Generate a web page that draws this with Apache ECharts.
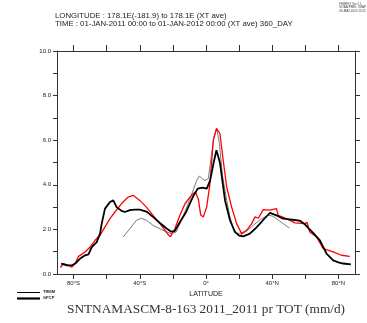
<!DOCTYPE html>
<html>
<head>
<meta charset="utf-8">
<script src="https://cdn.jsdelivr.net/npm/echarts@6/dist/echarts.min.js"></script>
<style>
  html, body { margin: 0; padding: 0; background: #fff; }
  #chart { width: 367px; height: 323px; }
</style>
</head>
<body>
<div id="chart"></div>
<script>
// 纬度刻度
var latTicks = [-80, -60, -40, -20, 0, 20, 40, 60, 80];
var latLabels = [-80, -40, 0, 40, 80];
var yTicks = [0, 1, 2, 3, 4, 5, 6, 7, 8, 9, 10];
var yLabels = [0, 2, 4, 6, 8, 10];

// GPCP（粗黑线）
var gpcpLat = [-87.5, -84, -81, -79, -76, -73, -71, -69, -66, -64, -63, -61, -58, -56, -54, -51, -49, -46, -43, -40,
  -36, -32, -28, -24, -21, -19, -16, -12, -8, -5, -2, 0.5, 2.5, 4.5, 6.3, 8.4, 11.5, 14.5, 17.5, 20,
  22.5, 26.5, 30, 32.6, 35.5, 38.6, 42.6, 46.6, 50.5, 54.7, 57, 59.7, 62, 64.7, 68.8, 72.8, 76.8, 80, 82.8, 87.5];
var gpcpVal = [0.47, 0.39, 0.39, 0.47, 0.69, 0.84, 0.88, 1.21, 1.43, 1.81, 2.26, 2.93, 3.23, 3.30, 3.00, 2.83, 2.78, 2.86, 2.89, 2.89,
  2.80, 2.56, 2.30, 2.05, 1.90, 1.92, 2.30, 2.78, 3.45, 3.83, 3.87, 3.83, 4.20, 4.95, 5.55, 5.00, 3.30, 2.41, 1.88, 1.72,
  1.69, 1.81, 2.05, 2.26, 2.50, 2.74, 2.63, 2.48, 2.45, 2.41, 2.38, 2.23, 2.05, 1.84, 1.51, 0.91, 0.61, 0.52, 0.47, 0.43];

// TRMM（细灰线）
var trmmLat = [-50, -46, -42, -39, -36, -32, -26, -21, -18, -14, -10, -5.6, -4, -2, -0.6, 1.4, 3.4, 5, 6.4, 8,
  10, 12.5, 14.5, 16.5, 18.5, 21.5, 25, 28.5, 33, 37.6, 40, 42.6, 46.6, 50.5];
var trmmVal = [1.66, 2.03, 2.41, 2.50, 2.41, 2.18, 1.96, 1.81, 1.88, 2.56, 3.30, 4.20, 4.40, 4.25, 4.20, 4.28, 5.40, 6.20, 6.55, 5.90,
  4.40, 3.30, 2.55, 2.05, 1.85, 1.78, 1.95, 2.18, 2.45, 2.63, 2.60, 2.48, 2.26, 2.06];

// 模式（红线）
var modelLat = [-88, -86, -83, -81, -79, -77, -73, -70, -67, -64, -61, -58, -55, -51, -47, -44, -40, -36, -32, -27,
  -23, -21.5, -18.7, -15.7, -12.7, -8.6, -6.4, -4.6, -3.2, -1.6, 0.4, 2.4, 4.4, 6.4, 8.4, 10.4, 12.5, 15.5, 18.5, 21.5,
  24.5, 27.6, 29.6, 31.6, 34.6, 38.6, 42.6, 43.6, 48.7, 53.7, 59.7, 61, 62.7, 66.8, 70.8, 76.8, 81.8, 86.9];
var modelVal = [0.29, 0.47, 0.39, 0.31, 0.47, 0.79, 0.99, 1.21, 1.51, 1.74, 2.11, 2.48, 2.78, 3.16, 3.45, 3.53, 3.30, 3.00, 2.63, 2.18,
  1.78, 1.67, 2.05, 2.65, 3.15, 3.55, 3.68, 3.35, 2.65, 2.56, 3.00, 4.05, 6.00, 6.52, 6.30, 5.10, 3.90, 3.00, 2.26, 1.81,
  1.96, 2.26, 2.56, 2.50, 2.89, 2.86, 2.93, 2.63, 2.48, 2.29, 2.26, 2.32, 1.88, 1.66, 1.14, 0.99, 0.84, 0.79];

function pairs(xs, ys) {
  return xs.map(function (x, i) { return [x, ys[i]]; });
}
function latFmt(v) {
  if (v === 0) return '0°';
  return Math.abs(v) + '°' + (v < 0 ? 'S' : 'N');
}

var axisColor = '#333';
var sans = 'Liberation Sans, Arial, sans-serif';

var option = {
  animation: false,
  backgroundColor: '#fff',
  grid: { left: 57, right: 12, top: 51, bottom: 49 },
  xAxis: [
    {
      type: 'value', min: -90, max: 90, position: 'bottom',
      name: 'LATITUDE', nameLocation: 'middle', nameGap: 17,
      nameTextStyle: { color: '#222', fontSize: 7, fontFamily: sans },
      axisLine: { show: true, onZero: false, lineStyle: { color: axisColor, width: 1 } },
      axisTick: { show: true, inside: false, length: 5, customValues: latTicks, lineStyle: { color: axisColor } },
      axisLabel: { show: true, customValues: latLabels, formatter: latFmt, color: '#222', fontSize: 6, fontFamily: sans, margin: 6 },
      splitLine: { show: false }
    },
    {
      type: 'value', min: -90, max: 90, position: 'top',
      axisLine: { show: true, onZero: false, lineStyle: { color: axisColor, width: 1 } },
      axisTick: { show: true, inside: false, length: 6, customValues: latTicks, lineStyle: { color: axisColor } },
      axisLabel: { show: false },
      splitLine: { show: false }
    }
  ],
  yAxis: [
    {
      type: 'value', min: 0, max: 10, position: 'left',
      axisLine: { show: true, onZero: false, lineStyle: { color: axisColor, width: 1 } },
      axisTick: { show: true, inside: false, length: 4, customValues: yTicks, lineStyle: { color: axisColor } },
      axisLabel: {
        show: true, customValues: yLabels, color: '#222', fontSize: 6, fontFamily: sans, margin: 6,
        formatter: function (v) { return v.toFixed(1); }
      },
      splitLine: { show: false }
    },
    {
      type: 'value', min: 0, max: 10, position: 'right',
      axisLine: { show: true, onZero: false, lineStyle: { color: axisColor, width: 1 } },
      axisTick: { show: true, inside: false, length: 5, customValues: yTicks, lineStyle: { color: axisColor } },
      axisLabel: { show: false },
      splitLine: { show: false }
    }
  ],
  series: [
    {
      name: 'TRMM', type: 'line', data: pairs(trmmLat, trmmVal), showSymbol: false,
      lineStyle: { color: '#7a7a7a', width: 1 }, z: 2
    },
    {
      name: 'model', type: 'line', data: pairs(modelLat, modelVal), showSymbol: false,
      lineStyle: { color: '#ff0000', width: 1.3 }, z: 3
    },
    {
      name: 'GPCP', type: 'line', data: pairs(gpcpLat, gpcpVal), showSymbol: false,
      lineStyle: { color: '#000', width: 1.8 }, z: 4
    }
  ],
  graphic: [
    { type: 'text', left: 55, top: 12, style: { text: 'LONGITUDE : 178.1E(-181.9) to 178.1E (XT ave)', fill: '#222', font: '7.8px ' + sans } },
    { type: 'text', left: 55, top: 20, style: { text: 'TIME : 01-JAN-2011 00:00 to 01-JAN-2012 00:00 (XT ave) 360_DAY', fill: '#222', font: '7.8px ' + sans } },
    { type: 'text', right: 1, top: 2, style: { text: 'FERRET Ver.7.1\nNOAA/PMEL TMAP\n08-MAY-2020 15:32', fill: '#444', font: '3px ' + sans, align: 'right', lineHeight: 3.5 } },
    { type: 'line', shape: { x1: 17, y1: 292.5, x2: 40, y2: 292.5 }, style: { stroke: '#000', lineWidth: 1 } },
    { type: 'line', shape: { x1: 17, y1: 298.5, x2: 40, y2: 298.5 }, style: { stroke: '#000', lineWidth: 2.2 } },
    { type: 'text', left: 43, top: 290, style: { text: 'TRMM', fill: '#222', font: 'bold 4px ' + sans } },
    { type: 'text', left: 43, top: 296, style: { text: 'GPCP', fill: '#222', font: 'bold 4px ' + sans } },
    { type: 'text', left: 67, top: 303, style: { text: 'SNTNAMASCM-8-163 2011_2011 pr TOT (mm/d)', fill: '#333', font: '13.3px Liberation Serif, serif' } }
  ]
};

var myChart = echarts.init(document.getElementById('chart'));
myChart.setOption(option);
window.addEventListener('resize', function () { myChart.resize(); });
</script>
</body>
</html>
